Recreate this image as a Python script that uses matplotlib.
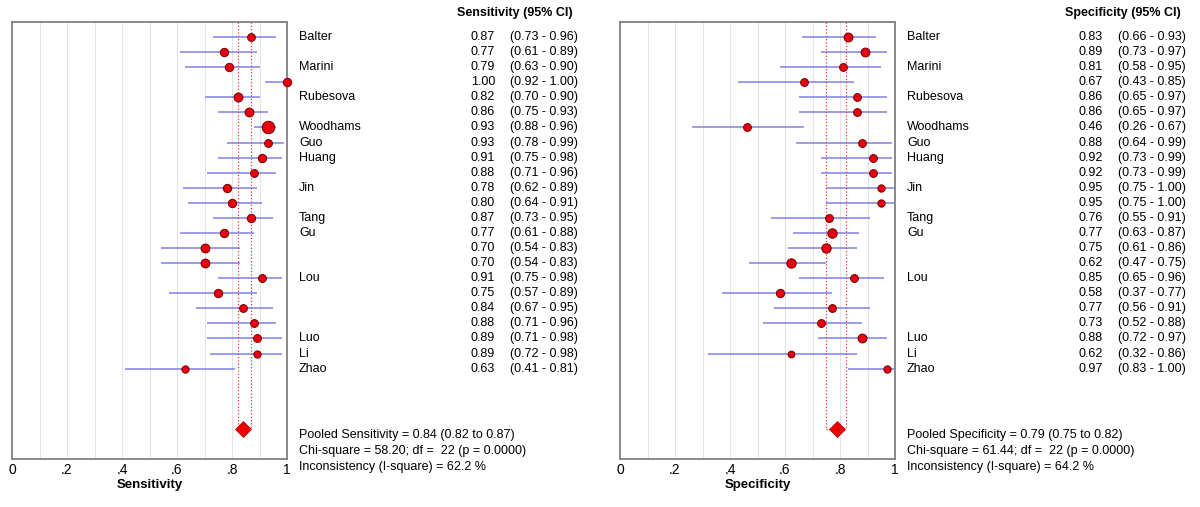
import matplotlib.pyplot as plt
import matplotlib.transforms as mtransforms
import numpy as np

plt.rcParams['font.family'] = ['Liberation Sans', 'DejaVu Sans']

studies = ["Balter", "", "Marini", "", "Rubesova", "", "Woodhams", "Guo", "Huang", "",
           "Jin", "", "Tang", "Gu", "", "", "Lou", "", "", "", "Luo", "Li", "Zhao"]

sens = [0.87, 0.77, 0.79, 1.00, 0.82, 0.86, 0.93, 0.93, 0.91, 0.88, 0.78, 0.80,
        0.87, 0.77, 0.70, 0.70, 0.91, 0.75, 0.84, 0.88, 0.89, 0.89, 0.63]
sens_lo = [0.73, 0.61, 0.63, 0.92, 0.70, 0.75, 0.88, 0.78, 0.75, 0.71, 0.62, 0.64,
           0.73, 0.61, 0.54, 0.54, 0.75, 0.57, 0.67, 0.71, 0.71, 0.72, 0.41]
sens_hi = [0.96, 0.89, 0.90, 1.00, 0.90, 0.93, 0.96, 0.99, 0.98, 0.96, 0.89, 0.91,
           0.95, 0.88, 0.83, 0.83, 0.98, 0.89, 0.95, 0.96, 0.98, 0.98, 0.81]
sens_size = [7.5, 8, 8, 8, 8.5, 8.5, 12, 7.5, 8, 7.5, 8, 8,
             8, 8, 8.5, 8.5, 7.5, 8, 7.5, 7.5, 7.5, 7, 7]

spec = [0.83, 0.89, 0.81, 0.67, 0.86, 0.86, 0.46, 0.88, 0.92, 0.92, 0.95, 0.95,
        0.76, 0.77, 0.75, 0.62, 0.85, 0.58, 0.77, 0.73, 0.88, 0.62, 0.97]
spec_lo = [0.66, 0.73, 0.58, 0.43, 0.65, 0.65, 0.26, 0.64, 0.73, 0.73, 0.75, 0.75,
           0.55, 0.63, 0.61, 0.47, 0.65, 0.37, 0.56, 0.52, 0.72, 0.32, 0.83]
spec_hi = [0.93, 0.97, 0.95, 0.85, 0.97, 0.97, 0.67, 0.99, 0.99, 0.99, 1.00, 1.00,
           0.91, 0.87, 0.86, 0.75, 0.96, 0.77, 0.91, 0.88, 0.97, 0.86, 1.00]
spec_size = [8.5, 8.5, 7.5, 7.5, 7.5, 7.5, 7.5, 7.5, 7.5, 7.5, 7, 7,
             7.5, 9, 9, 9, 7.5, 8, 7.5, 7.5, 8.5, 6.5, 7]

pooled_sens = (0.84, 0.82, 0.87)
pooled_spec = (0.79, 0.75, 0.82)
stats_sens = ["Pooled Sensitivity = 0.84 (0.82 to 0.87)",
              "Chi-square = 58.20; df =  22 (p = 0.0000)",
              "Inconsistency (I-square) = 62.2 %"]
stats_spec = ["Pooled Specificity = 0.79 (0.75 to 0.82)",
              "Chi-square = 61.44; df =  22 (p = 0.0000)",
              "Inconsistency (I-square) = 64.2 %"]

W, H = 1200, 507
fig = plt.figure(figsize=(W / 100, H / 100), dpi=100)


def draw_panel(x0, label, vals, lo, hi, size, pooled, stats):
    ax = fig.add_axes([x0 / W, 1 - 459 / H, 275 / W, (459 - 22) / H])
    rows = np.arange(1, len(vals) + 1)
    ax.set_xlim(0, 1)
    ax.set_ylim(29, 0)

    for g in np.arange(0.1, 1.0, 0.1):
        ax.axvline(g, color="#e4e4e4", lw=0.8, zorder=0)

    ax.hlines(rows, lo, hi, color="#6a6ade", lw=1.1, alpha=0.85, zorder=2)
    for r, v, s in zip(rows, vals, size):
        ax.plot(v, r, "o", ms=s * 0.75, color="#e8000f", mec="#700000", mew=0.7,
                zorder=3, clip_on=False)

    # pooled estimate and its confidence band
    p, plo, phi = pooled
    prow = 27
    ax.plot([plo, plo], [0, prow], ls=":", color="#f03030", lw=0.9, zorder=1)
    ax.plot([phi, phi], [0, prow], ls=":", color="#f03030", lw=0.9, zorder=1)
    ax.plot([plo, phi], [prow, prow], ls=":", color="#f03030", lw=0.9, zorder=1)
    ax.plot(p, prow, "D", ms=8.5, color="#ee0000", mec="#b00000", mew=0.5, zorder=4)

    for sp in ax.spines.values():
        sp.set_color("#808080")
        sp.set_linewidth(1.3)
    ax.set_yticks([])
    ax.set_xticks([0, 0.2, 0.4, 0.6, 0.8, 1.0])
    ax.set_xticklabels(["0", ".2", ".4", ".6", ".8", "1"], fontsize=10)
    ax.tick_params(axis="x", length=0, pad=3)
    ax.set_xlabel(label, fontsize=9.5, fontweight="bold", labelpad=1)

    tr = mtransforms.blended_transform_factory(fig.transFigure, ax.transData)
    xn = (x0 + 287) / W
    xv = (x0 + 483) / W
    xc = (x0 + 498) / W
    for r, name, v, l, h in zip(rows, studies, vals, lo, hi):
        ax.text(xn, r, name, transform=tr, fontsize=9, va="center", ha="left")
        ax.text(xv, r, f"{v:.2f}", transform=tr, fontsize=9, va="center", ha="right")
        ax.text(xc, r, f"({l:.2f} - {h:.2f})", transform=tr, fontsize=9,
                va="center", ha="left")

    fig.text((x0 + 503) / W, 1 - 13 / H, f"{label} (95% CI)", fontsize=9,
             fontweight="bold", ha="center", va="center")
    for i, s in enumerate(stats):
        fig.text(xn, 1 - (435 + 16 * i) / H, s, fontsize=9, ha="left", va="center")
    return ax


draw_panel(12, "Sensitivity", sens, sens_lo, sens_hi, sens_size, pooled_sens, stats_sens)
draw_panel(620, "Specificity", spec, spec_lo, spec_hi, spec_size, pooled_spec, stats_spec)

fig.savefig("out.png", dpi=100, facecolor="white")
